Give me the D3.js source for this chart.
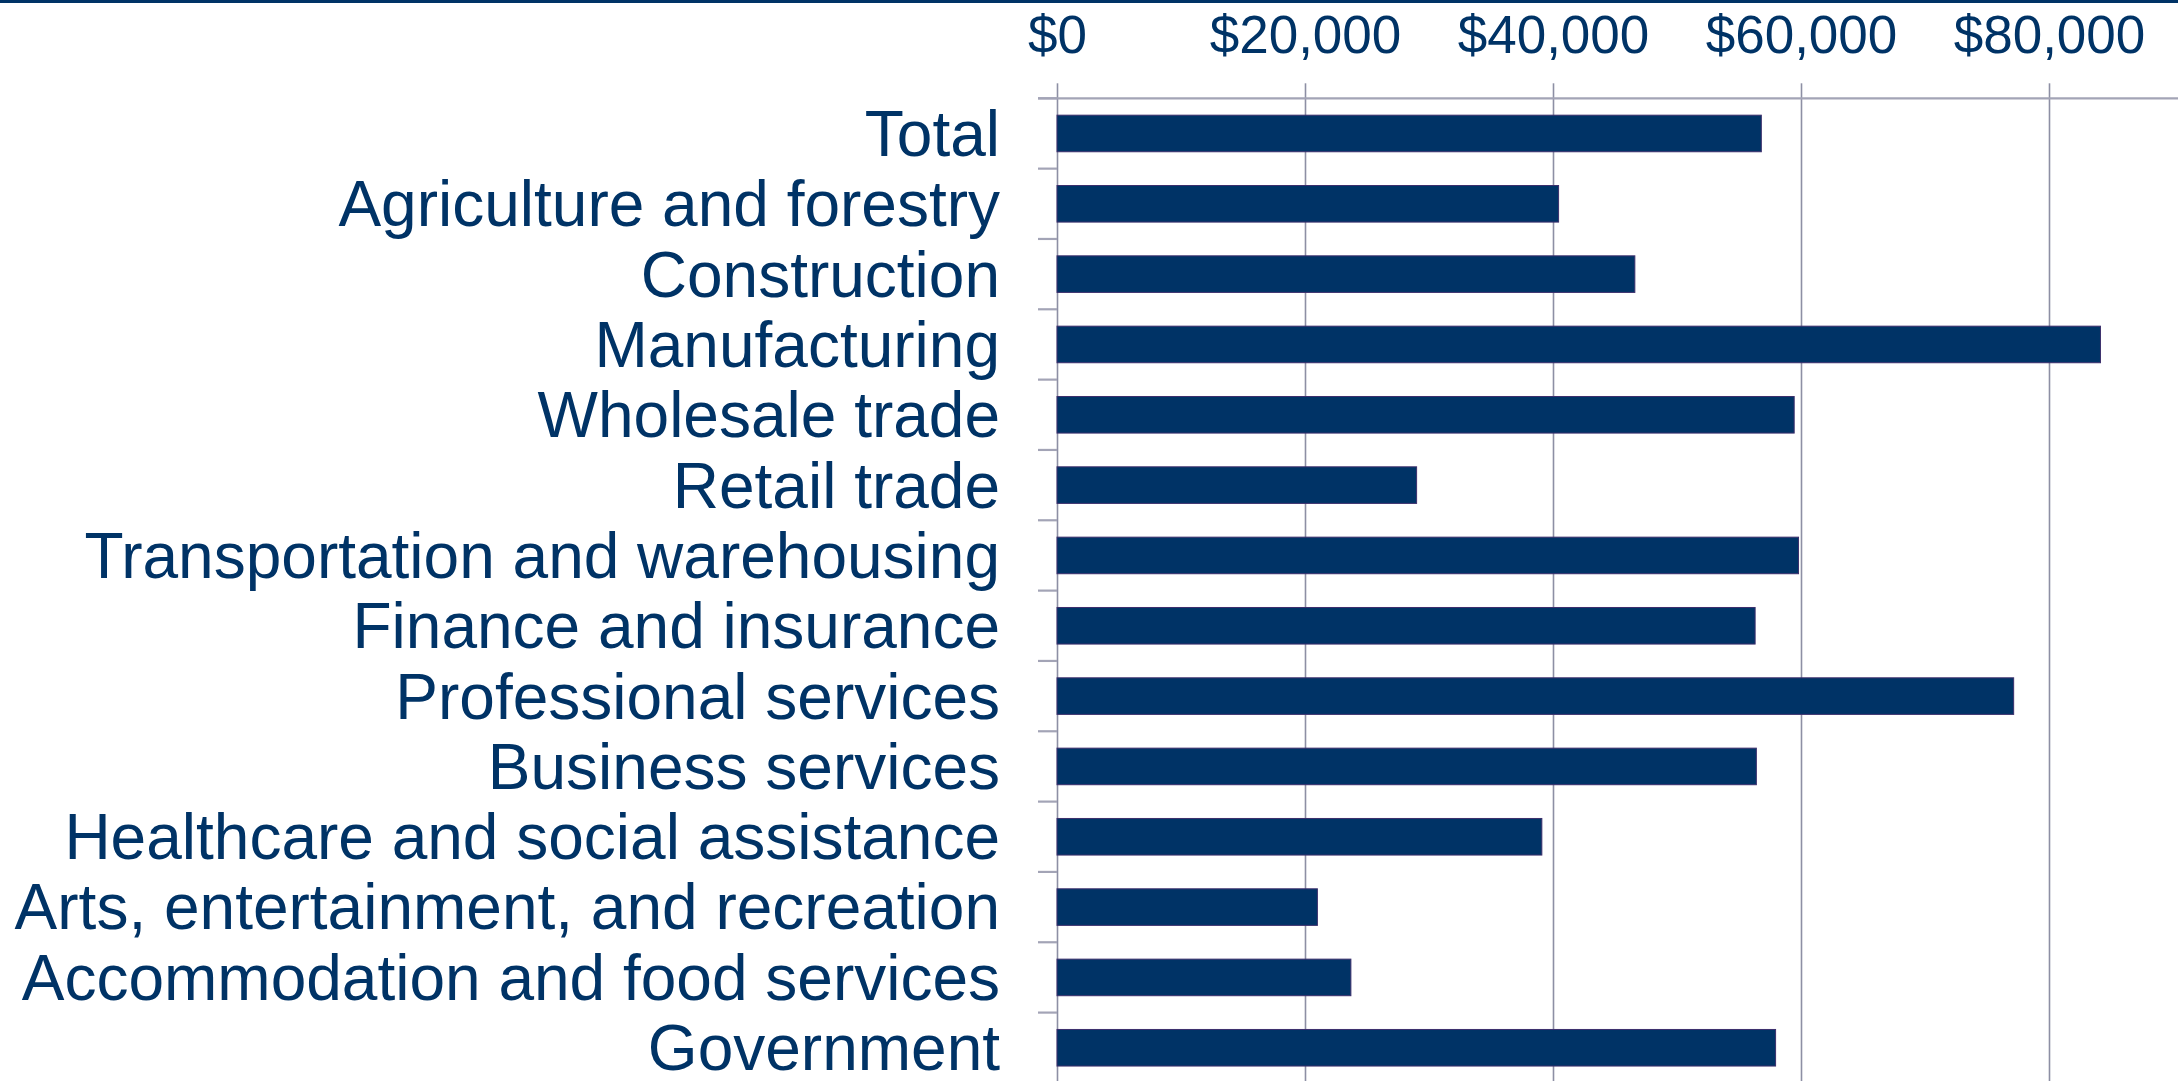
<!DOCTYPE html>
<html>
<head>
<meta charset="utf-8">
<script src="https://cdn.jsdelivr.net/npm/d3@7"></script>
<style>
  html, body { margin: 0; padding: 0; background: #ffffff; overflow: hidden; }
  svg { display: block; }
</style>
</head>
<body>
<svg id="chart" width="2178" height="1081"></svg>
<script>
const categories = [
  "Total",
  "Agriculture and forestry",
  "Construction",
  "Manufacturing",
  "Wholesale trade",
  "Retail trade",
  "Transportation and warehousing",
  "Finance and insurance",
  "Professional services",
  "Business services",
  "Healthcare and social assistance",
  "Arts, entertainment, and recreation",
  "Accommodation and food services",
  "Government"
];
const wages = [
  56800, 40450, 46600, 84150, 59450, 29000, 59800,
  56300, 77150, 56400, 39100, 21000, 23700, 57950
];
const tickValues = [0, 20000, 40000, 60000, 80000];
const xDomain = [0, 100000];

const W = 2178, H = 1081;
const navy = "#003366";
const gridColor = "#8d8fa4";
const axisColor = "#a3a4b6";
const plotLeft = 1057, plotTop = 98.3;
const step20k = 248;

const svg = d3.select("#chart");

// top rule
svg.append("rect").attr("x", 0).attr("y", 0).attr("width", W).attr("height", 3).attr("fill", navy);

const x = d3.scaleLinear().domain(xDomain).range([plotLeft, plotLeft + step20k * 5]);
const y = d3.scaleBand().domain(categories)
  .range([plotTop, plotTop + 70.33 * categories.length])
  .paddingInner(0.48).paddingOuter(0.24);

// gridlines
svg.append("g")
  .attr("transform", `translate(0,${plotTop})`)
  .call(d3.axisBottom(x).tickValues(tickValues).tickSize(H - plotTop + 10).tickFormat(""))
  .call(g => g.select(".domain").remove())
  .call(g => g.selectAll(".tick line").attr("stroke", gridColor).attr("stroke-width", 1.6));

// top axis with labels
svg.append("g")
  .attr("transform", `translate(0,${plotTop})`)
  .call(d3.axisTop(x).tickValues(tickValues).tickSize(15).tickPadding(30).tickFormat(d3.format("$,")))
  .call(g => g.select(".domain").remove())
  .call(g => g.selectAll(".tick line").attr("stroke", gridColor).attr("stroke-width", 1.6))
  .call(g => g.selectAll(".tick text")
    .attr("fill", navy)
    .attr("font-family", "'Liberation Sans', Arial, sans-serif")
    .attr("font-size", 53));

// horizontal axis line
svg.append("line")
  .attr("x1", plotLeft - 19).attr("x2", W)
  .attr("y1", plotTop).attr("y2", plotTop)
  .attr("stroke", axisColor).attr("stroke-width", 2.2);

// left category ticks at band boundaries
const boundaries = categories.map(c => y(c) - y.step() * y.paddingInner() / 2).concat(
  [y(categories[categories.length - 1]) + y.bandwidth() + y.step() * y.paddingInner() / 2]);
svg.append("g").selectAll("line").data(boundaries).join("line")
  .attr("x1", plotLeft - 19).attr("x2", plotLeft)
  .attr("y1", d => d).attr("y2", d => d)
  .attr("stroke", axisColor).attr("stroke-width", 2.2);

// bars
svg.append("g").selectAll("rect").data(categories).join("rect")
  .attr("x", x(0))
  .attr("y", d => y(d))
  .attr("width", (d, i) => x(wages[i]) - x(0))
  .attr("height", y.bandwidth())
  .attr("fill", navy)
  .attr("stroke", "#3c2f6c")
  .attr("stroke-width", 1);

// category labels
svg.append("g").selectAll("text").data(categories).join("text")
  .attr("x", 1000)
  .attr("y", d => y(d) + y.bandwidth() / 2)
  .attr("dy", "0.35em")
  .attr("text-anchor", "end")
  .attr("fill", navy)
  .attr("font-family", "'Liberation Sans', Arial, sans-serif")
  .attr("font-size", 64)
  .text(d => d);
</script>
</body>
</html>
